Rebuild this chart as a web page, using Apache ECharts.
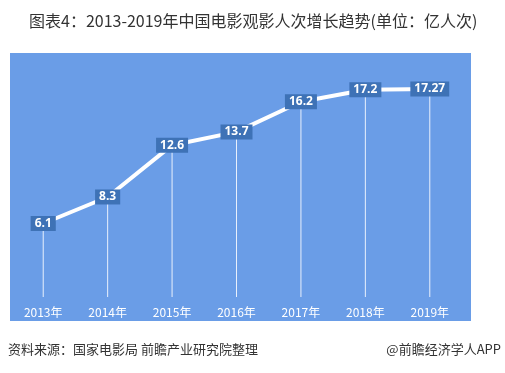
<!DOCTYPE html>
<html><head><meta charset="utf-8">
<script src="https://cdn.jsdelivr.net/npm/echarts@6/dist/echarts.min.js"></script>
<style>html,body{margin:0;padding:0;background:#fff}#c{width:505px;height:373px}</style>
</head><body><div id="c"></div>
<script>
var years = ['2013年','2014年','2015年','2016年','2017年','2018年','2019年'];
var values = [6.1, 8.3, 12.6, 13.7, 16.2, 17.2, 17.27];
var labels = ['6.1','8.3','12.6','13.7','16.2','17.2','17.27'];
var titleText = '图表4：2013-2019年中国电影观影人次增长趋势(单位：亿人次)';
var sourceText = '资料来源：国家电影局 前瞻产业研究院整理';
var brandText = '@前瞻经济学人APP';

var chart = echarts.init(document.getElementById('c'));
chart.setOption({
  animation: false,
  backgroundColor: '#fff',
  title: {
    text: titleText, left: 24, top: 8,
    textStyle: {fontFamily: 'Noto Sans CJK SC', fontSize: 16, fontWeight: 'normal', color: '#333'}
  },
  graphic: [
    {type: 'rect', z: -10, shape: {x: 10, y: 53, width: 461, height: 268}, style: {fill: '#6a9de7'}},
    {type: 'text', left: 8, top: 343, style: {text: sourceText, font: '13px "Noto Sans CJK SC"', fill: '#333'}},
    {type: 'text', right: 4, top: 343, style: {text: brandText, font: '13px "Noto Sans CJK SC"', fill: '#333'}}
  ],
  grid: {left: 11, right: 43, top: 56, bottom: 76},
  xAxis: {
    type: 'category', data: years, boundaryGap: true,
    axisLine: {show: false}, axisTick: {show: false},
    axisLabel: {color: '#fff', fontSize: 12, margin: 9, fontFamily: 'Noto Sans CJK SC'}
  },
  yAxis: {type: 'value', min: 0, max: 20, show: false, splitLine: {show: false}},
  series: [
    {
      type: 'bar', data: values, barWidth: 1, silent: true,
      itemStyle: {color: 'rgba(255,255,255,0.85)'}
    },
    {
      type: 'line', data: values, symbol: 'none', silent: true,
      lineStyle: {color: '#fff', width: 4},
      z: 5
    },
    {
      type: 'scatter', data: values, symbolSize: 2, silent: true,
      itemStyle: {color: 'rgba(0,0,0,0)'},
      labelLayout: {hideOverlap: false},
      label: {
        show: true, position: 'inside', opacity: 1,
        formatter: function (p) { return labels[p.dataIndex]; },
        backgroundColor: '#3e72b6', color: '#fff', fontWeight: 'bold',
        fontSize: 12, lineHeight: 13, fontFamily: 'Open Sans', padding: [1, 4, 1, 4]
      },
      z: 10
    }
  ]
});
</script></body></html>
